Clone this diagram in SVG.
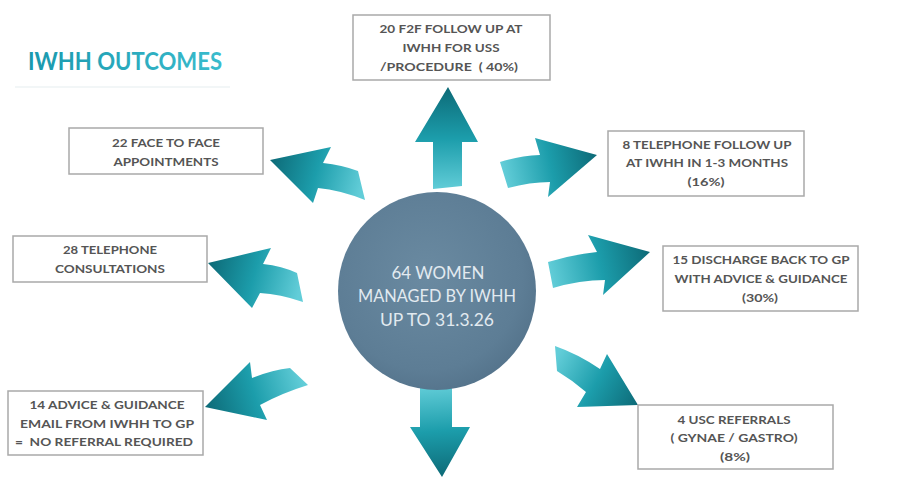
<svg xmlns="http://www.w3.org/2000/svg" xmlns:xlink="http://www.w3.org/1999/xlink" width="915" height="477" viewBox="0 0 915 477">
  <defs>
    <!-- shared teal ramp: dark at the arrow tip, light at the tail -->
    <linearGradient id="teal">
      <stop offset="0" stop-color="#0d6a77"/>
      <stop offset="0.5" stop-color="#1c9dab"/>
      <stop offset="1" stop-color="#62cdd8"/>
    </linearGradient>
    <linearGradient id="gUp" href="#teal" xlink:href="#teal" gradientUnits="userSpaceOnUse" x1="448" y1="87" x2="448" y2="190"/>
    <linearGradient id="gDown" href="#teal" xlink:href="#teal" gradientUnits="userSpaceOnUse" x1="442" y1="477" x2="436" y2="385"/>
    <linearGradient id="gA" href="#teal" xlink:href="#teal" gradientUnits="userSpaceOnUse" x1="270" y1="160" x2="362" y2="186"/>
    <linearGradient id="gB" href="#teal" xlink:href="#teal" gradientUnits="userSpaceOnUse" x1="208" y1="263" x2="300" y2="288"/>
    <linearGradient id="gC" href="#teal" xlink:href="#teal" gradientUnits="userSpaceOnUse" x1="205" y1="407" x2="302" y2="377"/>
    <linearGradient id="gD" href="#teal" xlink:href="#teal" gradientUnits="userSpaceOnUse" x1="597" y1="155" x2="504" y2="175"/>
    <linearGradient id="gE" href="#teal" xlink:href="#teal" gradientUnits="userSpaceOnUse" x1="650" y1="252" x2="550" y2="275"/>
    <linearGradient id="gF" href="#teal" xlink:href="#teal" gradientUnits="userSpaceOnUse" x1="638" y1="405" x2="556" y2="358"/>
    <radialGradient id="hub" cx="0.45" cy="0.42" r="0.6">
      <stop offset="0" stop-color="#6a8aa1"/>
      <stop offset="0.8" stop-color="#5d7d95"/>
      <stop offset="1" stop-color="#55748c"/>
    </radialGradient>
    <linearGradient id="titleInk" x1="0" y1="0" x2="1" y2="0">
      <stop offset="0" stop-color="#1a98ad"/>
      <stop offset="1" stop-color="#3abccd"/>
    </linearGradient>
    <style>
      .box { fill: #ffffff; stroke: #a9a9a9; stroke-width: 1.5; }
      .lbl { font-family: Lato, "Liberation Sans", sans-serif; font-weight: bold; font-size: 12px; fill: #555555; text-anchor: middle; white-space: pre; }
      .hubtxt { font-family: Lato, "Liberation Sans", sans-serif; font-size: 17px; fill: #e2eaf0; text-anchor: middle; }
      .title { font-family: Lato, "Liberation Sans", sans-serif; font-weight: bold; font-size: 24px; fill: url(#titleInk); }
    </style>
  </defs>

  <rect width="915" height="477" fill="#ffffff"/>

  <!-- heading -->
  <g id="title">
    <text class="title" x="28" y="70" textLength="194" lengthAdjust="spacingAndGlyphs">IWHH OUTCOMES</text>
    <line x1="15" y1="87" x2="230" y2="87" stroke="#eef3f4" stroke-width="1.5"/>
  </g>

  <!-- block arrows radiating from the hub -->
  <g id="connectors">
    <path fill="url(#gUp)" d="M448,87 L478,142 L462,142 L462,186 L433,189 L433,142 L415,142 Z"/>
    <path fill="url(#gDown)" d="M442,477 L410,427 L420,427 L420,385 L452,385 L452,427 L470,427 Z"/>
    <path fill="url(#gA)" d="M270,160 L331,147 L323,163 Q342,165 358,171 L365,200 Q340,190 318,188 L313,203 Z"/>
    <path fill="url(#gB)" d="M208,263 L271,248 L263,264 Q282,266 297,273 L303,302 Q280,294 260,293 L252,308 Z"/>
    <path fill="url(#gC)" d="M205,407 L250,362 L252,378 Q272,370 290,368 L308,385 Q282,393 260,405 L267,420 Z"/>
    <path fill="url(#gD)" d="M597,155 L535,138 L540,155 Q518,156 500,162 L508,188 Q530,182 550,182 L548,197 Z"/>
    <path fill="url(#gE)" d="M650,252 L588,235 L597,252 Q570,255 548,262 L553,288 Q580,280 605,280 L603,295 Z"/>
    <path fill="url(#gF)" d="M638,405 L607,354 L600,369 Q578,354 555,346 L557,371 Q572,380 586,392 L577,407 Z"/>
  </g>

  <!-- hub -->
  <g id="hub-node">
    <circle cx="437" cy="291" r="99" fill="url(#hub)"/>
    <text class="hubtxt" x="438" y="279" textLength="93" lengthAdjust="spacingAndGlyphs">64 WOMEN</text>
    <text class="hubtxt" x="437" y="302" textLength="158" lengthAdjust="spacingAndGlyphs">MANAGED BY IWHH</text>
    <text class="hubtxt" x="437" y="326" textLength="114" lengthAdjust="spacingAndGlyphs">UP TO 31.3.26</text>
  </g>

  <!-- outcome boxes -->
  <g id="f2f-follow-up">
    <rect class="box" x="353" y="15" width="197" height="65"/>
    <text class="lbl" x="451" y="33" textLength="143" lengthAdjust="spacingAndGlyphs">20 F2F FOLLOW UP AT</text>
    <text class="lbl" x="451" y="52" textLength="97" lengthAdjust="spacingAndGlyphs">IWHH FOR USS</text>
    <text class="lbl" x="449" y="71" textLength="138" lengthAdjust="spacingAndGlyphs" xml:space="preserve">/PROCEDURE  ( 40%)</text>
  </g>

  <g id="face-to-face">
    <rect class="box" x="69" y="128" width="194" height="46"/>
    <text class="lbl" x="166" y="147" textLength="108" lengthAdjust="spacingAndGlyphs">22 FACE TO FACE</text>
    <text class="lbl" x="166" y="166" textLength="105" lengthAdjust="spacingAndGlyphs">APPOINTMENTS</text>
  </g>

  <g id="telephone-consultations">
    <rect class="box" x="13" y="236" width="194" height="46"/>
    <text class="lbl" x="110" y="254" textLength="94" lengthAdjust="spacingAndGlyphs">28 TELEPHONE</text>
    <text class="lbl" x="110" y="273" textLength="110" lengthAdjust="spacingAndGlyphs">CONSULTATIONS</text>
  </g>

  <g id="advice-email">
    <rect class="box" x="8" y="391" width="195" height="64"/>
    <text class="lbl" x="107" y="409" textLength="155" lengthAdjust="spacingAndGlyphs">14 ADVICE &amp; GUIDANCE</text>
    <text class="lbl" x="107" y="428" textLength="174" lengthAdjust="spacingAndGlyphs">EMAIL FROM IWHH TO GP</text>
    <text class="lbl" x="104" y="446" textLength="178" lengthAdjust="spacingAndGlyphs" xml:space="preserve">=  NO REFERRAL REQUIRED</text>
  </g>

  <g id="telephone-follow-up">
    <rect class="box" x="608" y="131" width="196" height="65"/>
    <text class="lbl" x="707" y="149" textLength="169" lengthAdjust="spacingAndGlyphs">8 TELEPHONE FOLLOW UP</text>
    <text class="lbl" x="707" y="167" textLength="162" lengthAdjust="spacingAndGlyphs">AT IWHH IN 1-3 MONTHS</text>
    <text class="lbl" x="706" y="186" textLength="37" lengthAdjust="spacingAndGlyphs">(16%)</text>
  </g>

  <g id="discharge">
    <rect class="box" x="663" y="246" width="195" height="65"/>
    <text class="lbl" x="761" y="264" textLength="177" lengthAdjust="spacingAndGlyphs">15 DISCHARGE BACK TO GP</text>
    <text class="lbl" x="761" y="283" textLength="173" lengthAdjust="spacingAndGlyphs">WITH ADVICE &amp; GUIDANCE</text>
    <text class="lbl" x="760" y="302" textLength="36" lengthAdjust="spacingAndGlyphs">(30%)</text>
  </g>

  <g id="usc-referrals">
    <rect class="box" x="638" y="405" width="195" height="64"/>
    <text class="lbl" x="734" y="424" textLength="113" lengthAdjust="spacingAndGlyphs">4 USC REFERRALS</text>
    <text class="lbl" x="734" y="442" textLength="127" lengthAdjust="spacingAndGlyphs">( GYNAE / GASTRO)</text>
    <text class="lbl" x="735" y="461" textLength="30" lengthAdjust="spacingAndGlyphs">(8%)</text>
  </g>
</svg>
